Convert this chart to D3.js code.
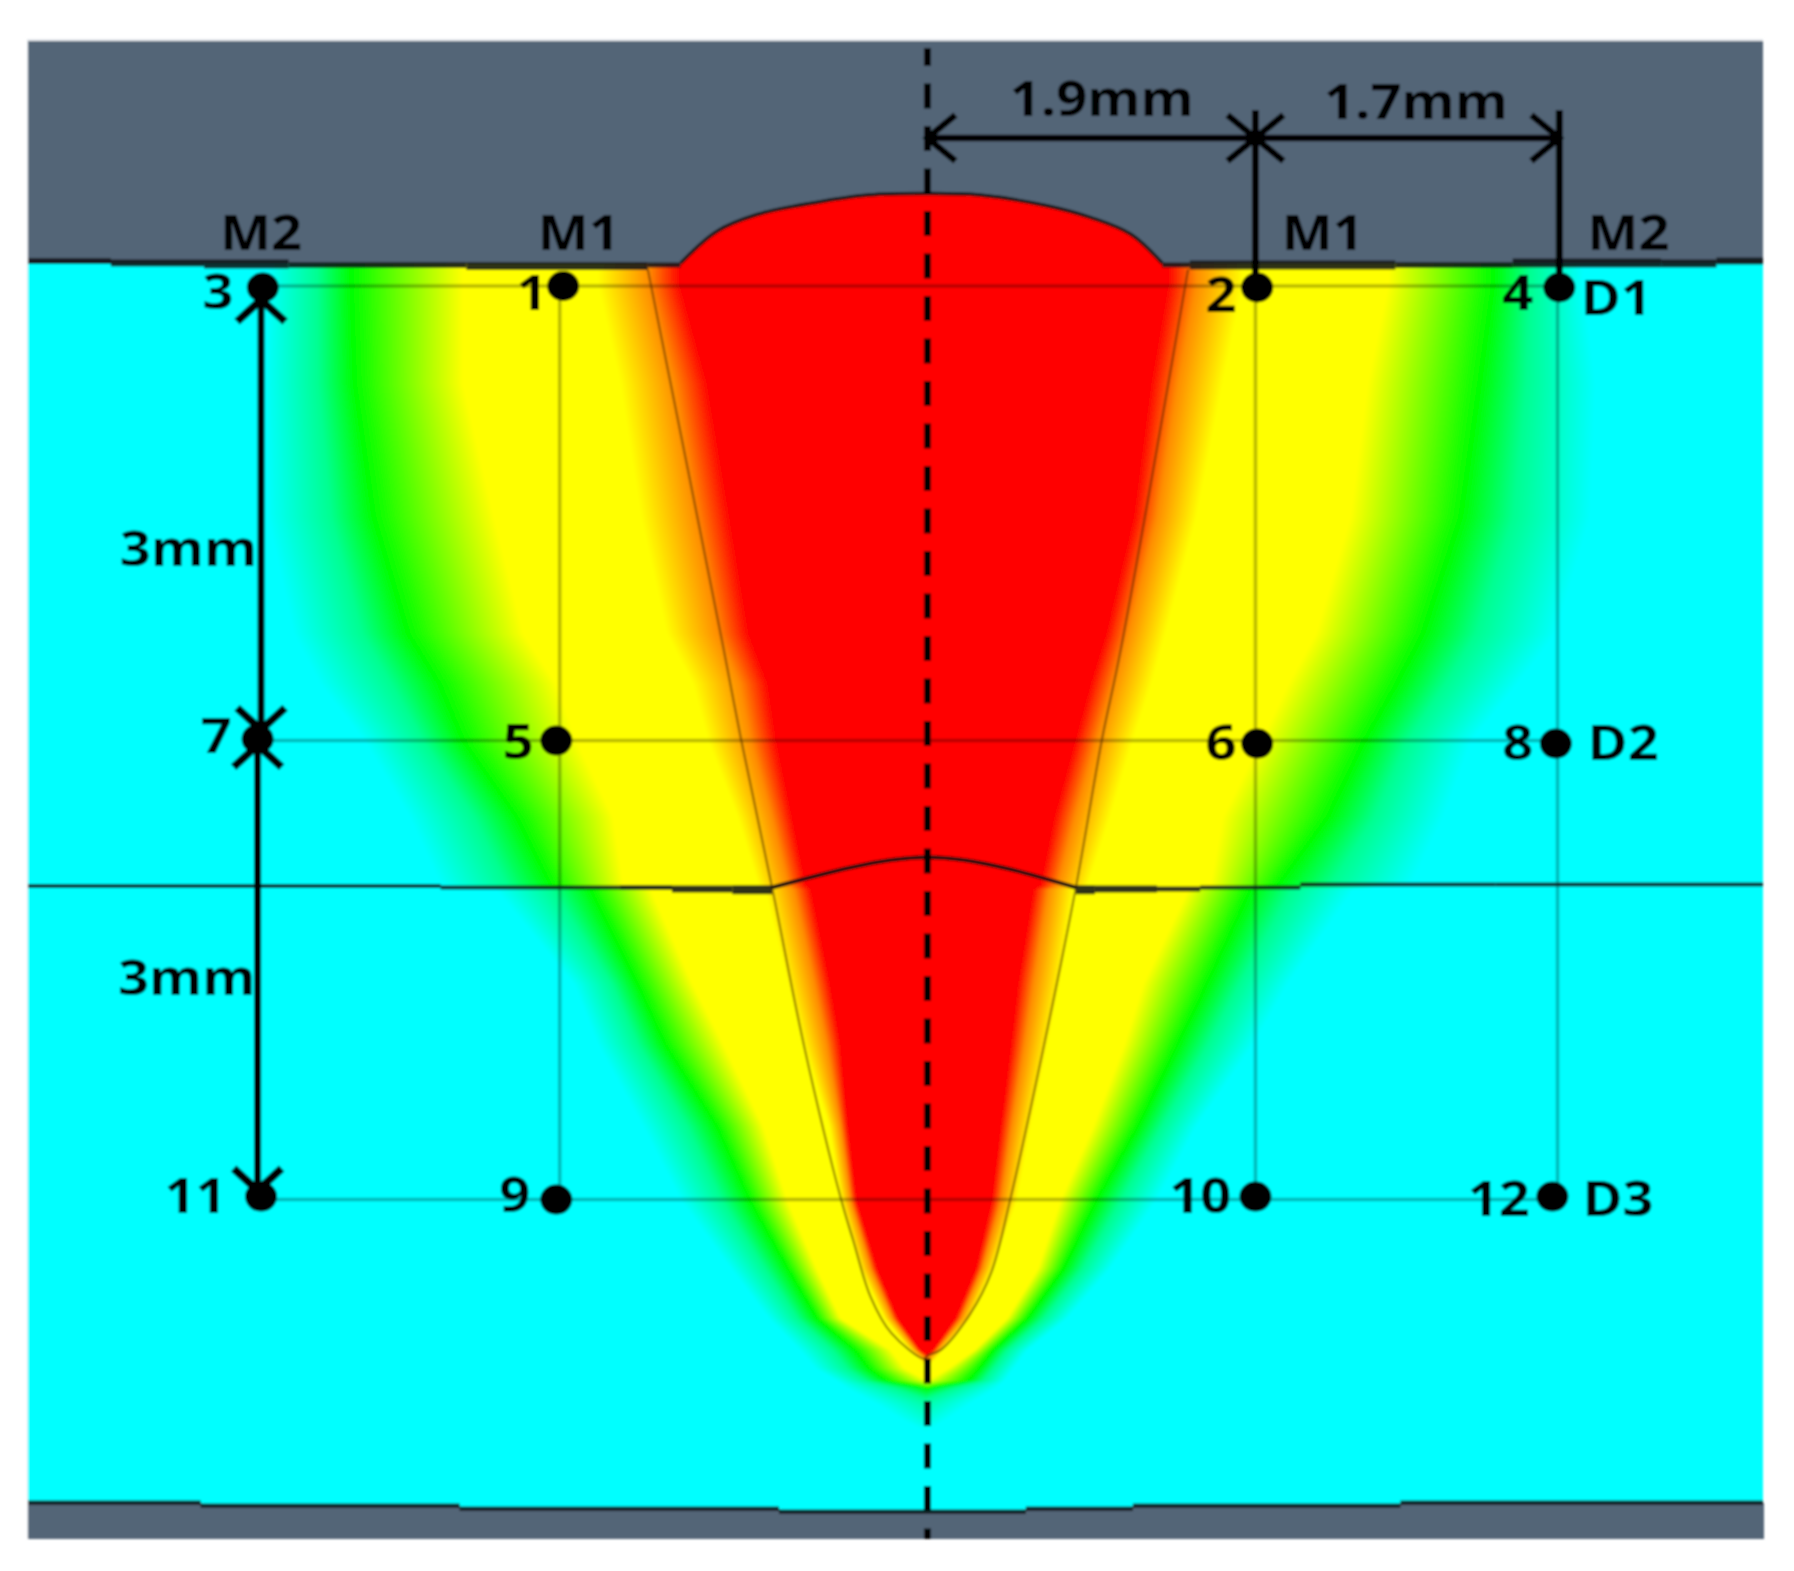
<!DOCTYPE html>
<html>
<head>
<meta charset="utf-8">
<script src="https://cdn.jsdelivr.net/npm/d3@7"></script>
<style>
  body { margin: 0; background: #fff; }
  svg { display: block; }
</style>
</head>
<body>
<div class="graph"></div>
<script>
// all lengths in mm: x from the weld centreline, depth from the D1 row
var fieldDepth = [-0.15,-0.02,0.64,1.52,2.29,2.62,3.0,3.5,3.95,3.98,4.6,5.0,5.54,6.03,6.48,6.81,7.02,7.14,7.22,7.27,7.37,7.47,7.62];
var leftCyan = [3.82,3.82,3.84,3.82,3.67,3.52,3.26,3.00,2.82,2.50,2.05,1.91,1.65,1.43,1.14,0.92,0.74,0.65,0.53,0.47,0.30,0.16,-0.10];
var leftGreen = [3.34,3.34,3.32,3.21,3.01,2.83,2.69,2.38,2.18,1.95,1.68,1.52,1.22,1.03,0.81,0.64,0.42,0.34,0.24,0.00,-0.30,-0.47,-0.60];
var leftYellow = [2.69,2.69,2.69,2.51,2.34,2.15,2.03,1.82,1.76,1.60,1.36,1.18,0.95,0.81,0.64,0.50,0.21,0.13,0.00,-0.19,-0.50,-0.70,-0.90];
var leftYellowEnd = [1.91,1.91,1.78,1.66,1.51,1.36,1.27,1.10,0.98,0.94,0.81,0.72,0.57,0.50,0.39,0.25,0.10,0.00,-0.13,-0.31,-0.60,-0.80,-1.00];
var leftRed = [1.43,1.43,1.27,1.14,1.03,0.92,0.87,0.78,0.70,0.67,0.56,0.50,0.46,0.41,0.29,0.17,0.04,-0.10,-0.25,-0.36,-0.70,-0.90,-1.10];
var rightRed = [1.39,1.39,1.29,1.19,1.03,0.94,0.85,0.73,0.65,0.61,0.52,0.48,0.42,0.37,0.28,0.16,0.03,-0.10,-0.25,-0.36,-0.70,-0.90,-1.10];
var rightYellowEnd = [1.83,1.83,1.71,1.56,1.38,1.30,1.19,1.06,0.93,0.85,0.77,0.70,0.60,0.52,0.38,0.25,0.09,0.00,-0.13,-0.31,-0.60,-0.80,-1.00];
var rightYellow = [2.67,2.67,2.55,2.45,2.25,2.09,1.93,1.71,1.64,1.51,1.25,1.14,0.96,0.77,0.64,0.46,0.27,0.12,0.00,-0.19,-0.50,-0.70,-0.90];
var rightGreen = [3.28,3.28,3.20,3.09,2.87,2.72,2.53,2.32,2.03,1.87,1.62,1.45,1.22,0.98,0.79,0.58,0.38,0.30,0.24,0.00,-0.30,-0.47,-0.60];
var rightCyan = [3.80,3.80,3.87,3.84,3.64,3.42,3.15,2.99,2.80,2.47,2.09,1.89,1.56,1.33,1.06,0.81,0.58,0.50,0.45,0.40,0.25,0.12,-0.10];

var crownX = [-1.43,-1.22,-0.99,-0.65,-0.34,0,0.30,0.69,0.95,1.18,1.36];
var crownD = [-0.15,-0.36,-0.47,-0.55,-0.60,-0.61,-0.60,-0.53,-0.45,-0.34,-0.15];
var rootCrownX = [-0.90,-0.45,-0.22,0,0.22,0.48,0.86];
var rootCrownD = [3.97,3.84,3.79,3.77,3.79,3.85,3.97];
var fusionX = [-1.62,-1.18,-1.08,-0.90,-0.71,-0.50,-0.43,-0.33,-0.21,-0.02,0,0.08,0.25,0.37,0.48,0.67,0.86,1.01,1.12,1.51];
var fusionD = [-0.11,2.40,2.99,3.97,5.04,6.03,6.30,6.67,6.91,7.08,7.06,7.02,6.78,6.51,6.03,5.04,3.97,3.00,2.40,-0.11];

// boundary lines are made of short steps in the source image
var surfaceFrom = [-5.21,-4.73,-4.19,-3.70,-2.67,-1.62,1.36,1.52,2.71,3.39,4.25,4.57];
var surfaceTo = [-4.73,-4.19,-3.70,-2.67,-1.62,-1.43,1.52,2.71,3.39,4.25,4.57,4.84];
var surfaceD = [-0.165,-0.152,-0.145,-0.139,-0.132,-0.139,-0.139,-0.139,-0.139,-0.152,-0.149,-0.165];
var surfaceThick = [6,7,9,6,8,5,5,9,6,9,8,7];
var midFrom = [-5.21,-2.82,-1.78,-1.48,-1.13,0.86,0.97,1.33,1.58,2.16,3.29];
var midTo = [-2.82,-1.78,-1.48,-1.13,-0.90,0.97,1.33,1.58,2.16,3.29,4.84];
var midD = [3.96,3.97,3.97,3.98,3.985,3.985,3.98,3.98,3.97,3.95,3.95];
var midThick = [4,4,5,7,9,9,7,5,4,4,4];
var bottomFrom = [-5.21,-4.21,-2.71,-0.86,0.57,1.19,2.74];
var bottomTo = [-4.21,-2.71,-0.86,0.57,1.19,2.74,4.84];
var bottomD = [8.03,8.05,8.07,8.09,8.07,8.05,8.03];

var gridX = [-2.13,1.90,3.65];
var gridD = [0,3,6.03];

var pointX = [-3.85,-2.11,1.91,3.66,-3.88,-2.15,1.91,3.64,-3.86,-2.15,1.90,3.62];
var pointD = [0.01,0,0.01,0.01,2.99,3.00,3.02,3.02,6.01,6.03,6.01,6.01];

var labelText = ["M2","M1","M1","M2","1.9mm","1.7mm","3","1","2","4","D1","7","5","6","8","D2","11","9","10","12","D3","3mm","3mm"];
var labelX = [-3.86,-2.02,2.29,4.06,1.01,2.83,-4.11,-2.29,1.70,3.42,3.99,-4.12,-2.37,1.70,3.42,4.03,-4.24,-2.39,1.58,3.31,4.00,-4.28,-4.29];
var labelD = [-0.24,-0.24,-0.24,-0.24,-1.12,-1.10,0.15,0.16,0.17,0.16,0.19,3.08,3.12,3.13,3.13,3.13,6.12,6.11,6.12,6.14,6.14,1.85,4.68];

var hArrowX = [0,1.90,1.90,3.66];
var hArrowDir = [1,-1,1,-1];
var vArrowX = [-3.86,-3.86,-3.88,-3.88];
var vArrowD = [0.09,2.93,3.03,5.97];
var vArrowDir = [1,-1,1,-1];
var dimDepth = -0.977;

var width = 1794, height = 1571;
var panel = {left: 28, right: 1763, top: 41, bottom: 1539};

var x = d3.scaleLinear().domain([-5.21, 4.84]).range([panel.left, panel.right]);
var y = d3.scaleLinear().domain([-1.617, 8.27]).range([panel.top, panel.bottom]);

var steel = "#536577";

var svg = d3.select(".graph").append("svg")
    .attr("width", width)
    .attr("height", height);

var defs = svg.append("defs");
defs.append("filter").attr("id", "soft")
    .attr("x", 0).attr("y", 0).attr("width", width).attr("height", height)
    .attr("filterUnits", "userSpaceOnUse")
    .append("feGaussianBlur").attr("stdDeviation", 0.9);

var chart = svg.append("g").attr("filter", "url(#soft)");

chart.append("rect")
    .attr("x", panel.left - 1).attr("y", panel.top - 2)
    .attr("width", panel.right - panel.left + 1).attr("height", panel.bottom - panel.top + 2)
    .attr("fill", "#e6eaee");

// temperature field, one gradient per pixel row and per side of the centreline
function edge(values) {
    return d3.scaleLinear().domain(fieldDepth).range(values).clamp(true);
}
var leftEdges = [leftCyan, leftGreen, leftYellow, leftYellowEnd, leftRed].map(edge);
var rightEdges = [rightCyan, rightGreen, rightYellow, rightYellowEnd, rightRed].map(edge);

function rowStops(edges, depth, sign) {
    var cy = sign * edges[0](depth), gr = sign * edges[1](depth), ye = sign * edges[2](depth),
        yf = sign * edges[3](depth), re = sign * edges[4](depth);
    var stops = [
        [cy, "#00ffff"],
        [cy + (gr - cy) * 0.6, "#00ff90"],
        [gr, "#00ff00"],
        [ye, "#ffff00"],
        [yf, "#ffff00"],
        [yf + (re - yf) * 0.62, "#ff8c00"],
        [re, "#ff0000"]
    ];
    return sign < 0 ? stops : stops.reverse();
}

var rowStep = 2;
var rows = d3.range(y(-0.15), y(8.09), rowStep).map(function(py, i) {
    return {py: py, depth: y.invert(py), i: i};
});

function drawSide(name, edges, sign, x0, x1) {
    var grads = defs.selectAll("linearGradient." + name)
        .data(rows)
        .enter().append("linearGradient")
        .attr("class", name)
        .attr("id", function(d) { return name + d.i; })
        .attr("gradientUnits", "userSpaceOnUse")
        .attr("x1", panel.left).attr("x2", panel.right)
        .attr("y1", 0).attr("y2", 0);

    grads.selectAll("stop")
        .data(function(d) { return rowStops(edges, d.depth, sign); })
        .enter().append("stop")
        .attr("offset", function(s) { return (x(s[0]) - panel.left) / (panel.right - panel.left); })
        .attr("stop-color", function(s) { return s[1]; });

    chart.append("g").attr("shape-rendering", "crispEdges")
        .selectAll("rect")
        .data(rows)
        .enter().append("rect")
        .attr("x", x0)
        .attr("y", function(d) { return d.py; })
        .attr("width", x1 - x0)
        .attr("height", rowStep + 0.5)
        .attr("fill", function(d) { return "url(#" + name + d.i + ")"; });
}
drawSide("fl", leftEdges, -1, panel.left, x(0));
drawSide("fr", rightEdges, 1, x(0), panel.right);

// steel above and below the plate
chart.append("rect")
    .attr("x", panel.left).attr("y", panel.top)
    .attr("width", panel.right - panel.left).attr("height", y(-0.15) - panel.top)
    .attr("fill", steel);

chart.append("g").attr("shape-rendering", "crispEdges").selectAll("rect")
    .data(bottomD)
    .enter().append("rect")
    .attr("x", function(d, i) { return Math.floor(x(bottomFrom[i])); })
    .attr("y", function(d) { return y(d); })
    .attr("width", function(d, i) { return Math.ceil(x(bottomTo[i]) - x(bottomFrom[i])) + 1; })
    .attr("height", function(d) { return panel.bottom - y(d); })
    .attr("fill", steel);

var crown = crownX.map(function(v, i) { return [v, crownD[i]]; });
var lineMm = d3.line()
    .x(function(d) { return x(d[0]); })
    .y(function(d) { return y(d[1]); })
    .curve(d3.curveCatmullRom);

chart.append("path")
    .attr("d", lineMm(crown) + "L" + x(crownX[10]) + "," + y(-0.12) + "L" + x(crownX[0]) + "," + y(-0.12) + "Z")
    .attr("fill", "#ff0000");
chart.append("path")
    .attr("d", lineMm(crown))
    .attr("fill", "none")
    .attr("stroke", "#1c1414")
    .attr("stroke-width", 3.5);

// grid through the measuring points
var grid = chart.append("g").attr("stroke", "#000").attr("stroke-opacity", 0.27);
grid.selectAll("line.h")
    .data(gridD)
    .enter().append("line")
    .attr("class", "h")
    .attr("x1", x(pointX[0])).attr("x2", x(gridX[2]))
    .attr("y1", function(d) { return y(d); }).attr("y2", function(d) { return y(d); })
    .attr("stroke-width", 3.5);
grid.selectAll("line.v")
    .data(gridX)
    .enter().append("line")
    .attr("class", "v")
    .attr("x1", function(d) { return x(d); }).attr("x2", function(d) { return x(d); })
    .attr("y1", y(gridD[0])).attr("y2", y(gridD[2]))
    .attr("stroke-width", 3.5);

// fusion boundary
var fusion = fusionX.map(function(v, i) { return [v, fusionD[i]]; });
chart.append("path")
    .attr("d", lineMm(fusion))
    .attr("fill", "none")
    .attr("stroke", "#402000")
    .attr("stroke-opacity", 0.6)
    .attr("stroke-width", 2);

// plate interfaces
function steps(from, to, depth, thick) {
    chart.append("g").selectAll("line")
        .data(depth)
        .enter().append("line")
        .attr("x1", function(d, i) { return x(from[i]); })
        .attr("x2", function(d, i) { return x(to[i]); })
        .attr("y1", function(d) { return y(d); })
        .attr("y2", function(d) { return y(d); })
        .attr("stroke", "#101414")
        .attr("stroke-opacity", 0.88)
        .attr("stroke-width", function(d, i) { return thick ? thick[i] : 4.5; });
}
steps(surfaceFrom, surfaceTo, surfaceD, surfaceThick);
steps(midFrom, midTo, midD, midThick);
steps(bottomFrom, bottomTo, bottomD, null);

chart.append("path")
    .attr("d", lineMm(rootCrownX.map(function(v, i) { return [v, rootCrownD[i]]; })))
    .attr("fill", "none")
    .attr("stroke", "#181010")
    .attr("stroke-width", 4);

// centreline
chart.append("line")
    .attr("x1", x(0)).attr("x2", x(0))
    .attr("y1", 48).attr("y2", panel.bottom)
    .attr("stroke", "#000")
    .attr("stroke-width", 7)
    .attr("stroke-dasharray", "25,17.5")
    .attr("stroke-dashoffset", 7);

// dimension lines
var dims = chart.append("g")
    .attr("stroke", "#050505")
    .attr("fill", "none");

dims.append("line")
    .attr("x1", x(hArrowX[0])).attr("x2", x(hArrowX[3]))
    .attr("y1", y(dimDepth)).attr("y2", y(dimDepth))
    .attr("stroke-width", 6.5);
dims.selectAll("line.ext")
    .data([hArrowX[1], hArrowX[3]])
    .enter().append("line")
    .attr("class", "ext")
    .attr("x1", function(d) { return x(d); }).attr("x2", function(d) { return x(d); })
    .attr("y1", y(-1.16)).attr("y2", y(0.01))
    .attr("stroke-width", 7);
dims.append("line")
    .attr("x1", x(vArrowX[0])).attr("x2", x(vArrowX[1]))
    .attr("y1", y(pointD[0])).attr("y2", y(pointD[4]))
    .attr("stroke-width", 7);
dims.append("line")
    .attr("x1", x(vArrowX[2])).attr("x2", x(vArrowX[3]))
    .attr("y1", y(pointD[4])).attr("y2", y(pointD[8]))
    .attr("stroke-width", 7);

dims.selectAll("path.h")
    .data(hArrowX)
    .enter().append("path")
    .attr("class", "h")
    .attr("d", function(d, i) {
        var tx = x(d), ty = y(dimDepth), s = hArrowDir[i];
        return "M" + (tx + s * 28) + "," + (ty - 23) + "L" + tx + "," + ty + "L" + (tx + s * 28) + "," + (ty + 23);
    })
    .attr("stroke-width", 6.5);
dims.selectAll("path.v")
    .data(vArrowX)
    .enter().append("path")
    .attr("class", "v")
    .attr("d", function(d, i) {
        var tx = x(d), ty = y(vArrowD[i]), s = vArrowDir[i];
        return "M" + (tx - 24) + "," + (ty + s * 22) + "L" + tx + "," + ty + "L" + (tx + 24) + "," + (ty + s * 22);
    })
    .attr("stroke-width", 8);

// measuring points
chart.append("g").selectAll("ellipse")
    .data(pointX)
    .enter().append("ellipse")
    .attr("cx", function(d) { return x(d); })
    .attr("cy", function(d, i) { return y(pointD[i]); })
    .attr("rx", 16)
    .attr("ry", 15)
    .attr("fill", "#000");

// labels are stretched sideways like the source figure
chart.append("g").selectAll("text")
    .data(labelText)
    .enter().append("text")
    .attr("transform", function(d, i) {
        return "translate(" + x(labelX[i]) + "," + y(labelD[i]) + ") scale(1.13,1)";
    })
    .attr("text-anchor", "middle")
    .attr("font-family", "'Open Sans', sans-serif")
    .attr("font-weight", 700)
    .attr("font-size", 48)
    .attr("fill", "#050505")
    .text(function(d) { return d; });
</script>
</body>
</html>
